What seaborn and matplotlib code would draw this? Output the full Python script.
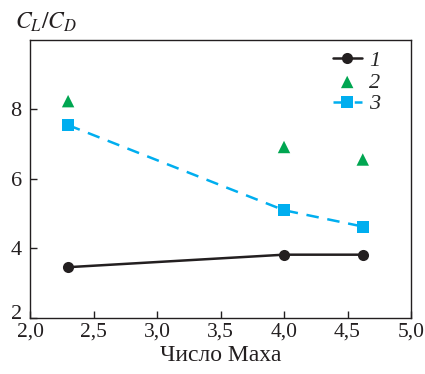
import matplotlib
matplotlib.use("Agg")
import matplotlib.pyplot as plt
import matplotlib.transforms as mtransforms
import seaborn as sns
import pandas as pd
from matplotlib.ticker import FuncFormatter

mach = [2.3, 4.0, 4.62]
s1 = [3.46, 3.82, 3.82]
s2 = [8.24, 6.92, 6.56]
s3 = [7.55, 5.1, 4.63]
labels = ["1", "2", "3"]
xticks = [2.0, 2.5, 3.0, 3.5, 4.0, 4.5, 5.0]
yticks = [2, 4, 6, 8]

sns.set_style("ticks")
plt.rcParams['font.family'] = ['Liberation Serif', 'DejaVu Serif']
plt.rcParams['mathtext.fontset'] = 'stix'

df = pd.DataFrame({"M": mach, "s1": s1, "s2": s2, "s3": s3})

fig = plt.figure(figsize=(4.25, 3.74), dpi=100)
ax = fig.add_axes([0.0706, 0.15, 0.8965, 0.743])

c1, c2, c3 = "#231f20", "#00a651", "#00aeef"
sns.lineplot(data=df, x="M", y="s1", ax=ax, color=c1, marker="o", markersize=8,
             markeredgewidth=0, linewidth=1.8, label=labels[0])
sns.scatterplot(data=df, x="M", y="s2", ax=ax, color=c2, marker="^", s=80,
                edgecolor="none", label=labels[1])
sns.lineplot(data=df, x="M", y="s3", ax=ax, color=c3, marker="s", markersize=8,
             markeredgewidth=0, linewidth=1.8, linestyle=(0, (5, 3.5)), label=labels[2])

ax.set_xlim(2.0, 5.0)
ax.set_ylim(2, 10)
ax.set_xticks(xticks)
ax.set_yticks(yticks)
ax.xaxis.set_major_formatter(FuncFormatter(lambda v, p: f"{v:.1f}".replace(".", ",")))
ax.tick_params(direction="in", labelsize=16, length=5, width=1, colors="#231f20")
ax.tick_params(axis="x", pad=3, labelsize=15.5)
ax.tick_params(axis="y", pad=6)
for sp in ax.spines.values():
    sp.set_visible(True)
    sp.set_linewidth(1.0)
    sp.set_color("#231f20")
ax.set_xlabel("Число Маха", fontsize=17, color="#231f20", labelpad=3)
ax.set_ylabel("")
fig.text(0.035, 0.94, r"$C_L/C_D$", fontsize=17, color="#231f20", va="center", ha="left")

# lift the bottom y tick label slightly, as in the reference
fig.canvas.draw()
lbl = ax.get_yticklabels()[0]
lbl.set_transform(lbl.get_transform() + mtransforms.ScaledTranslation(0, 6 / 100, fig.dpi_scale_trans))

leg = ax.legend(loc="upper right", bbox_to_anchor=(0.955, 1.01), frameon=False,
                fontsize=16, handlelength=1.3, handletextpad=0.35, labelspacing=0.05,
                borderaxespad=0.2)
for t in leg.get_texts():
    t.set_fontstyle("italic")

fig.savefig("out.png", dpi=100)
